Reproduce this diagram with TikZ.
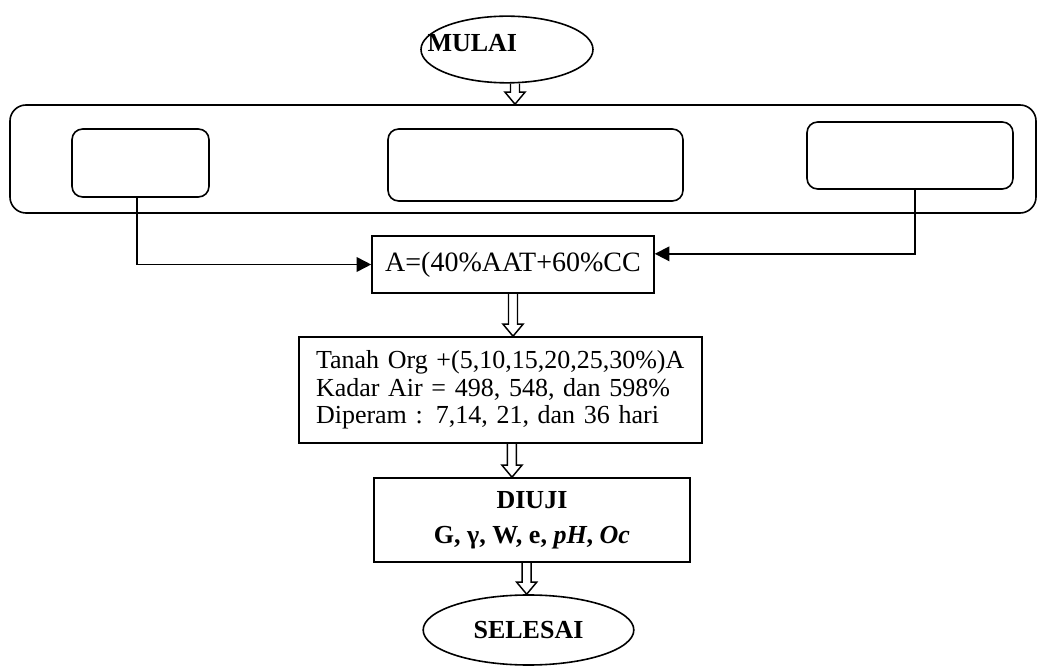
\documentclass[tikz,border=0pt]{standalone}
\usepackage{fontspec}
\setmainfont{Liberation Serif}
\usetikzlibrary{arrows.meta,shapes.geometric,calc}

% hollow block arrow, from a point straight down to a node border
\newcommand{\hollowarrow}[2]{%
  \coordinate (ha-a) at (#1);
  \coordinate (ha-b) at (ha-a |- #2);
  \draw[line width=1.1pt,line join=miter] ($(ha-a)+(-4.5,0)$) -- ($(ha-b)+(-4.5,-12)$) -- ($(ha-b)+(-10,-12)$) -- (ha-b)
    -- ($(ha-b)+(10,-12)$) -- ($(ha-b)+(4.5,-12)$) -- ($(ha-a)+(4.5,0)$);
}

\begin{document}
\fontsize{19.5}{20.5}\selectfont
\begin{tikzpicture}[x=0.75pt,y=-0.75pt,line width=1.2pt,
  box/.style={draw,rectangle,inner sep=0pt,line width=1.2pt},
  rbox/.style={draw,rounded corners=8pt,inner sep=0pt,line width=1.2pt},
  oval/.style={draw,ellipse,inner sep=0pt,line width=1.2pt},
  link/.style={line width=1.3pt,-{Triangle[length=11pt,width=11pt]}}]
\useasboundingbox (0,0) rectangle (1043,670);

% Start
\node[oval,minimum width=129pt,minimum height=50pt,
  label={[xshift=-26pt,yshift=5pt,font=\bfseries]center:MULAI}] (mulai) at (507,49.5) {};

% Materials
\node[rbox,rounded corners=12pt,minimum width=769.5pt,minimum height=81pt] (bahan) at (523,159) {};
\node[rbox,minimum width=102.75pt,minimum height=51pt] (aat) at (140.5,163) {};
\node[rbox,minimum width=221.25pt,minimum height=54pt] (tanah) at (535.5,165) {};
\node[rbox,minimum width=154.5pt,minimum height=50.25pt] (cc) at (910,155.5) {};

% Mixture and samples
\node[box,minimum width=211.5pt,minimum height=42.75pt,font=\fontsize{21}{22}\selectfont] (campur) at (513,264.5) {A=(40\%AAT+60\%CC};
\node[box,minimum width=302.25pt,minimum height=79.5pt,text width=276.75pt,align=left] (sampel) at (500.5,390)
  {Tanah Org +(5,10,15,20,25,30\%)A\\ Kadar Air = 498, 548, dan 598\%\\ Diperam : 7,14, 21, dan 36 hari};

% Tests
\node[box,minimum width=237pt,minimum height=63pt,align=center,font=\fontsize{19.5}{26}\selectfont\bfseries] (uji) at (532,520)
  {DIUJI\\ G, γ, W, e, \textit{pH}, \textit{Oc}};

% End
\node[oval,minimum width=158pt,minimum height=52.5pt,font=\bfseries] (selesai) at (528.5,630) {SELESAI};

% Connectors
\draw[link] ([xshift=-2.5pt]aat.south) |- (campur.west);
\draw[link] ([xshift=3.75pt]cc.south) |- ([yshift=8pt]campur.east);

\hollowarrow{[xshift=6pt]mulai.south}{bahan.north}
\hollowarrow{campur.south}{sampel.north}
\hollowarrow{[xshift=8.6pt]sampel.south}{uji.north}
\hollowarrow{[xshift=-4pt]uji.south}{selesai.north}
\end{tikzpicture}
\end{document}
